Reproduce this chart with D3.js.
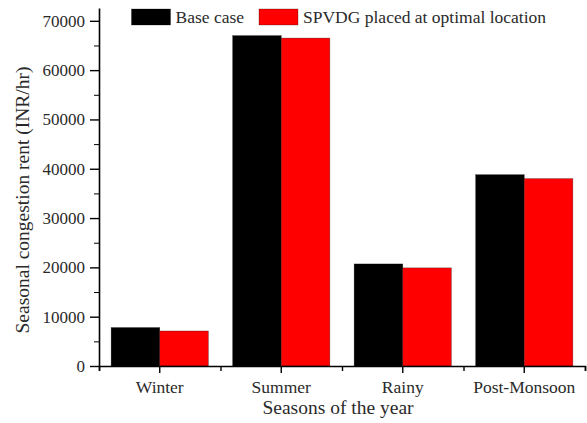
<!DOCTYPE html>
<html>
<head>
<meta charset="utf-8">
<script src="https://cdn.jsdelivr.net/npm/d3@7"></script>
<style>
  html, body { margin: 0; padding: 0; background: #fff; }
  svg { display: block; }
  svg text { font-family: "Liberation Serif", "Times New Roman", serif; }
</style>
</head>
<body>
<svg id="chart" width="587" height="423"></svg>
<script>
// Seasonal congestion rent (INR/hr)
const seasons = ["Winter", "Summer", "Rainy", "Post-Monsoon"];
const seriesNames = ["Base case", "SPVDG placed at optimal location"];
const baseCase = [7800, 67000, 20700, 38800];
const spvdgOptimal = [7100, 66500, 19900, 38000];
const seriesColors = ["#000000", "#ff0000"];
const yTicks = [0, 10000, 20000, 30000, 40000, 50000, 60000, 70000];
const yMinorTicks = [5000, 15000, 25000, 35000, 45000, 55000, 65000];

const svg = d3.select("#chart");
const plotLeft = 99, plotRight = 585, plotTop = 8, plotBottom = 366;

const x = d3.scaleBand().domain(seasons).range([plotLeft, plotRight]).padding(0);
const sub = d3.scaleBand().domain(d3.range(seriesNames.length))
  .range([0, x.bandwidth()]).paddingInner(0).paddingOuter(0.25);
const y = d3.scaleLinear().domain([0, 72600]).range([plotBottom, plotTop]);

const series = [baseCase, spvdgOptimal];

// bars
const groups = svg.append("g").selectAll("g")
  .data(seasons).join("g")
  .attr("transform", d => `translate(${x(d)},0)`);

groups.selectAll("rect")
  .data((d, i) => series.map((s, k) => ({ k, v: s[i] })))
  .join("rect")
  .attr("x", d => sub(d.k))
  .attr("width", sub.bandwidth())
  .attr("y", d => y(d.v))
  .attr("height", d => y(0) - y(d.v))
  .attr("fill", d => seriesColors[d.k])
  .attr("stroke", "#000")
  .attr("stroke-opacity", 0.45)
  .attr("stroke-width", 0.6);

// y axis
const yAxis = svg.append("g").attr("transform", `translate(${plotLeft},0)`);
yAxis.append("g")
  .call(d3.axisLeft(y).tickValues(yMinorTicks).tickSize(5).tickFormat(""))
  .call(g => g.select(".domain").remove());
yAxis.append("g")
  .call(d3.axisLeft(y).tickValues(yTicks).tickSize(9).tickSizeOuter(0).tickPadding(5).tickFormat(d3.format("d")))
  .call(g => g.select(".domain").attr("stroke-width", 1.6))
  .call(g => g.selectAll(".tick line").attr("stroke-width", 1.4))
  .call(g => g.selectAll("text").attr("font-size", 17).attr("fill", "#2a2a2a"));

// x axis
const xAxis = svg.append("g").attr("transform", `translate(0,${plotBottom})`);
const boundaries = seasons.map(s => x(s)).concat([x.range()[1]]);
xAxis.append("g")
  .call(d3.axisBottom(d3.scaleLinear().domain([plotLeft, plotRight]).range([plotLeft, plotRight]))
    .tickValues(boundaries).tickSize(5).tickFormat(""))
  .call(g => g.select(".domain").attr("stroke-width", 1.6))
  .call(g => g.selectAll(".tick line").attr("stroke-width", 1.4));
xAxis.append("g")
  .call(d3.axisBottom(x).tickSize(7).tickSizeOuter(0).tickPadding(8))
  .call(g => g.select(".domain").remove())
  .call(g => g.selectAll(".tick line").attr("stroke-width", 1.4))
  .call(g => g.selectAll("text").attr("font-size", 17.5).attr("fill", "#2a2a2a"));

// axis titles
svg.append("text")
  .attr("x", (plotLeft + plotRight) / 2 - 4)
  .attr("y", 414)
  .attr("text-anchor", "middle")
  .attr("font-size", 19.5)
  .attr("fill", "#2a2a2a")
  .text("Seasons of the year");

svg.append("text")
  .attr("transform", "translate(29,200) rotate(-90)")
  .attr("text-anchor", "middle")
  .attr("font-size", 19.5)
  .attr("fill", "#2a2a2a")
  .text("Seasonal congestion rent (INR/hr)");

// legend
const legendX = [131.5, 259];
const legend = svg.append("g").selectAll("g")
  .data(seriesNames).join("g")
  .attr("transform", (d, i) => `translate(${legendX[i]},9)`);
legend.append("rect")
  .attr("width", 39).attr("height", 16)
  .attr("fill", (d, i) => seriesColors[i])
  .attr("stroke", "#000").attr("stroke-opacity", 0.45).attr("stroke-width", 0.6);
legend.append("text")
  .attr("x", 44).attr("y", 14)
  .attr("font-size", 17.5)
  .attr("fill", "#2a2a2a")
  .text(d => d);
</script>
</body>
</html>
